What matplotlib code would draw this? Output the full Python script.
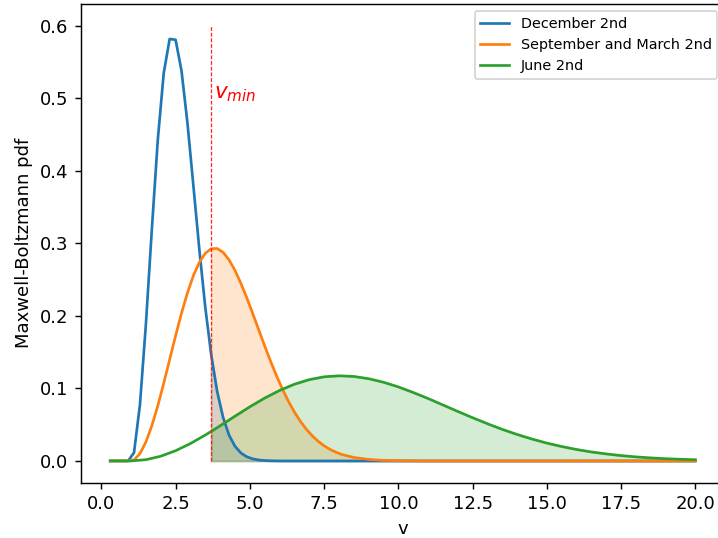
import numpy as np
import matplotlib
matplotlib.use('Agg')
import matplotlib.pyplot as plt

v_dec = [0.3, 0.5, 0.7, 0.9, 1.1, 1.3, 1.5, 1.7, 1.9, 2.1, 2.3, 2.5, 2.7, 2.9,
         3.1, 3.3, 3.5, 3.7, 3.9, 4.1, 4.3, 4.5, 4.7, 4.9, 5.1, 5.3, 5.5, 5.7,
         6.1, 20.0]
pdf_dec = [0.0, 0.0, 0.0, 0.0, 0.0114, 0.0776, 0.1885, 0.3192, 0.4423, 0.5346,
           0.5818, 0.5807, 0.5377, 0.4656, 0.3790, 0.2912, 0.2117, 0.1461,
           0.0957, 0.0598, 0.0355, 0.0202, 0.0109, 0.0057, 0.0028, 0.0013,
           0.0006, 0.0002, 0.0, 0.0]

v_sep = [0.3, 0.5, 0.7, 0.9, 1.1, 1.3, 1.5, 1.7, 1.9, 2.1, 2.3, 2.5, 2.7, 2.9,
         3.1, 3.3, 3.5, 3.7, 3.9, 4.1, 4.3, 4.5, 4.7, 4.9, 5.1, 5.3, 5.5, 5.7,
         5.9, 6.1, 6.3, 6.5, 6.7, 6.9, 7.1, 7.3, 7.5, 7.7, 7.9, 8.1, 8.5, 9.0,
         9.5, 10.0, 11.0, 20.0]
pdf_sep = [0.0, 0.0, 0.0, 0.0, 0.0014, 0.0101, 0.0261, 0.0485, 0.0759, 0.1070,
           0.1398, 0.1726, 0.2039, 0.2319, 0.2556, 0.2739, 0.2863, 0.2926,
           0.2929, 0.2876, 0.2771, 0.2626, 0.2447, 0.2245, 0.2028, 0.1806,
           0.1585, 0.1372, 0.1171, 0.0987, 0.0821, 0.0674, 0.0547, 0.0438,
           0.0346, 0.0271, 0.0209, 0.0159, 0.0120, 0.0089, 0.0048, 0.0021,
           0.0008, 0.0003, 0.0, 0.0]

v_jun = [0.3, 1.0, 1.5, 2.0, 2.5, 3.0, 3.5, 3.7, 4.0, 4.5, 5.0, 5.5, 6.0, 6.5,
         7.0, 7.5, 8.0, 8.5, 9.0, 9.5, 10.0, 10.5, 11.0, 11.5, 12.0, 12.5,
         13.0, 13.5, 14.0, 14.5, 15.0, 15.5, 16.0, 16.5, 17.0, 17.5, 18.0,
         18.5, 19.0, 19.5, 20.0]
pdf_jun = [0.0, 0.0, 0.0017, 0.0065, 0.0141, 0.0240, 0.0357, 0.0407, 0.0485,
           0.0617, 0.0747, 0.0867, 0.0972, 0.1058, 0.1121, 0.1160, 0.1174,
           0.1165, 0.1134, 0.1085, 0.1021, 0.0944, 0.0861, 0.0772, 0.0683,
           0.0596, 0.0513, 0.0435, 0.0365, 0.0302, 0.0246, 0.0199, 0.0158,
           0.0124, 0.0097, 0.0074, 0.0056, 0.0042, 0.0031, 0.0023, 0.0017]

labels = ['December 2nd', 'September and March 2nd', 'June 2nd']
v_min = 3.7
v_line_top = 0.6

fig = plt.figure(figsize=(718 / 129.5, 538 / 129.5), dpi=129.5)
ax = fig.add_axes([81 / 718, 55.3 / 538, 643.6 / 718, 478.7 / 538])

series = [(v_dec, pdf_dec), (v_sep, pdf_sep), (v_jun, pdf_jun)]
for i, (v, p) in enumerate(series):
    v = np.array(v)
    p = np.array(p)
    ax.plot(v, p, color='C%d' % i, label=labels[i])
    ax.fill_between(v, p, where=v >= v_min, color='C%d' % i, alpha=0.2)

# red marker line for v_min
ax.plot([v_min, v_min], [0, v_line_top], color='#ff2020', linestyle=(0, (3, 1.5)), linewidth=0.7)
ax.text(v_min + 0.1, 0.5, '$v_{min}$', color='red', fontsize=12)

ax.set_xlabel('v')
ax.set_ylabel('Maxwell-Boltzmann pdf')
ax.legend(loc='upper right', fontsize=8)

fig.savefig('out.png', dpi=129.5)
